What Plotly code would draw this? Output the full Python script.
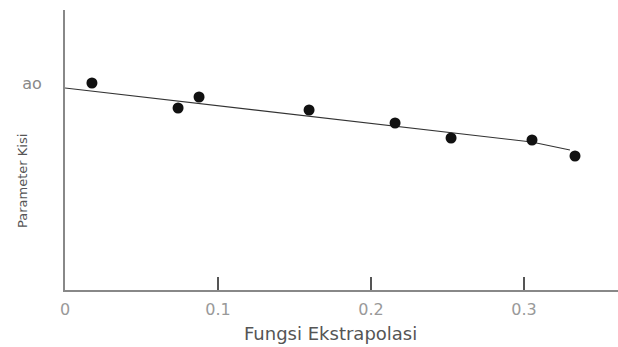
import plotly.graph_objects as go

# data
x_points = [0.0176, 0.0739, 0.0876, 0.1595, 0.2157, 0.2523, 0.3052, 0.3333]
y_points = [20.7, 18.2, 19.3, 18.0, 16.7, 15.2, 15.0, 13.4]
x_line = [0.0, 0.305, 0.330]
y_line = [20.2, 14.8, 14.0]
x_tick_vals = [0, 0.1, 0.2, 0.3]
x_tick_text = ["0", "0.1", "0.2", "0.3"]
y_tick_vals = [20.7]
y_tick_text = ["ao"]

fig = go.Figure()
fig.add_trace(go.Scatter(x=x_line, y=y_line, mode="lines",
                         line=dict(color="#333333", width=1.2), hoverinfo="skip"))
fig.add_trace(go.Scatter(x=x_points, y=y_points, mode="markers",
                         marker=dict(color="#111111", size=11, symbol="circle")))

font_fam = "DejaVu Sans"
fig.update_layout(
    width=618, height=347,
    margin=dict(l=65, r=0, t=10, b=57),
    plot_bgcolor="white", paper_bgcolor="white",
    showlegend=False,
    xaxis=dict(range=[0, 0.3614], tickvals=x_tick_vals, ticktext=x_tick_text,
               ticks="inside", ticklen=13, tickwidth=2, tickcolor="#555555",
               showline=True, linecolor="#888888", linewidth=2,
               showgrid=False, zeroline=False, automargin=False,
               ticklabelstandoff=4,
               tickfont=dict(family=font_fam, size=16, color="#999999")),
    yaxis=dict(range=[0, 28], tickvals=y_tick_vals, ticktext=y_tick_text,
               ticks="", ticklabelstandoff=18, automargin=False,
               showline=True, linecolor="#888888", linewidth=2,
               showgrid=False, zeroline=False,
               tickfont=dict(family=font_fam, size=16, color="#888888")),
    annotations=[
        dict(text="Fungsi Ekstrapolasi", xref="paper", yref="paper",
             x=(330 - 65) / 553, y=-43 / 280, xanchor="center", yanchor="middle",
             showarrow=False, font=dict(family=font_fam, size=18, color="#555555")),
        dict(text="Parameter Kisi", xref="paper", yref="paper",
             x=-43 / 553, y=(290 - 181) / 280, xanchor="center", yanchor="middle",
             textangle=-90, showarrow=False,
             font=dict(family=font_fam, size=13, color="#555555")),
    ],
)
fig.write_html(
    "out.html",
    config={"displayModeBar": False},
    post_script=("document.body.style.margin='0';"
                 "document.body.style.overflow='hidden';"
                 "document.documentElement.style.overflow='hidden';"),
)
